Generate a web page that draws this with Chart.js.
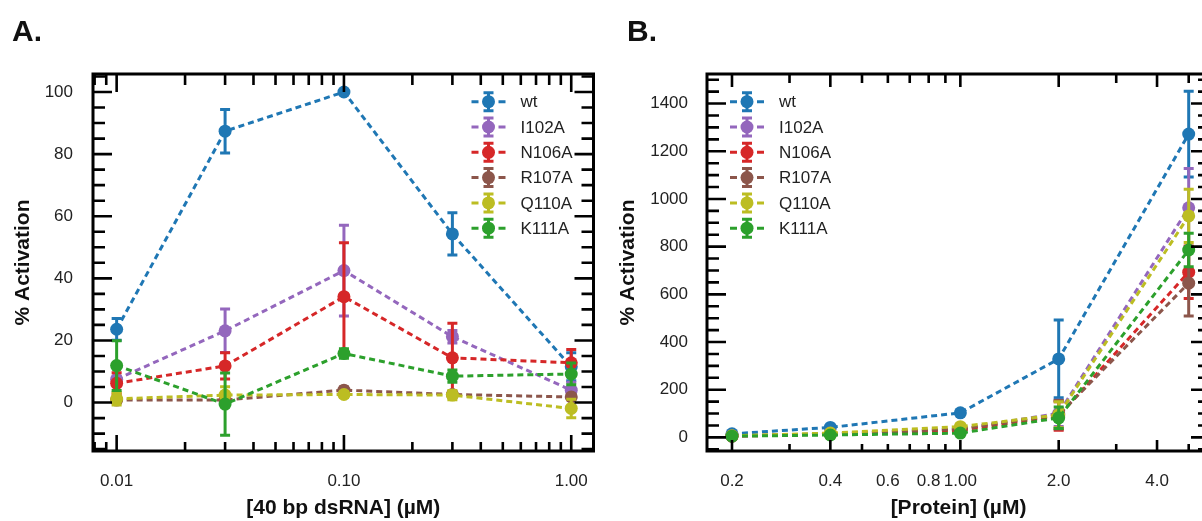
<!DOCTYPE html>
<html>
<head>
<meta charset="utf-8">
<script src="https://cdn.jsdelivr.net/npm/chart.js@4.4.1/dist/chart.umd.min.js"></script>
<style>
  html, body { margin: 0; padding: 0; overflow: hidden; background: #fff; width: 1202px; height: 521px; }
  .panel { position: absolute; top: 0; }
  .tag { position: absolute; font: bold 30px "Liberation Sans", Arial, sans-serif; color: #111; }
</style>
</head>
<body>
<canvas id="chartA" class="panel" width="600" height="521" style="left:0"></canvas>
<canvas id="chartB" class="panel" width="620" height="521" style="left:600px"></canvas>
<div class="tag" style="left:12px; top:14px;">A.</div>
<div class="tag" style="left:627px; top:14px;">B.</div>
<script>
// --- series ---
const seriesNames = ['wt', 'I102A', 'N106A', 'R107A', 'Q110A', 'K111A'];
const seriesColors = ['#1f77b4', '#9467bd', '#d62728', '#8c564b', '#bcbd22', '#2ca02c'];

// --- panel A: [40 bp dsRNA] ---
const dsrnaConc = [0.01, 0.03, 0.1, 0.3, 1.0];
const wtA    = [23.6, 87.4, 100, 54.3, 11.5];
const i102aA = [7.5, 23.1, 42.5, 21.2, 4.0];
const n106aA = [6.2, 11.8, 34.1, 14.4, 12.8];
const r107aA = [0.8, 0.8, 4.0, 2.6, 1.8];
const q110aA = [1.2, 2.4, 2.6, 2.4, -1.9];
const k111aA = [11.9, -0.5, 15.8, 8.5, 9.2];
const wtAErr    = [3.5, 7.0, 0, 6.8, 4.5];
const i102aAErr = [1.0, 7.0, 14.6, 2.0, 2.5];
const n106aAErr = [3.4, 4.2, 17.4, 11.1, 4.3];
const r107aAErr = [0.8, 0.8, 1.0, 0.8, 0.8];
const q110aAErr = [2.0, 2.7, 1.0, 1.5, 3.0];
const k111aAErr = [8.0, 10.0, 1.5, 2.0, 3.5];
const xTicksA = [0.01, 0.1, 1.0];
const xTickLabelsA = ['0.01', '0.10', '1.00'];
const yTicksA = [0, 20, 40, 60, 80, 100];

// --- panel B: [Protein] ---
const proteinConc = [0.2, 0.4, 1.0, 2.0, 5.0];
const wtB    = [15, 42, 103, 329, 1272];
const i102aB = [6, 15, 35, 101, 963];
const n106aB = [5, 14, 30, 90, 693];
const r107aB = [6, 15, 35, 95, 647];
const q110aB = [7, 18, 45, 95, 929];
const k111aB = [5, 10, 18, 82, 786];
const wtBErr    = [3, 5, 8, 163, 180];
const i102aBErr = [3, 4, 8, 55, 165];
const n106aBErr = [3, 4, 8, 60, 110];
const r107aBErr = [3, 4, 8, 60, 138];
const q110aBErr = [3, 4, 10, 55, 112];
const k111aBErr = [3, 4, 6, 45, 70];
const xTicksB = [0.2, 0.4, 0.6, 0.8, 1.0, 2.0, 4.0];
const xTickLabelsB = ['0.2', '0.4', '0.6', '0.8', '1.00', '2.0', '4.0'];
const yTicksB = [0, 200, 400, 600, 800, 1000, 1200, 1400];

// minor tick helpers (log decades / linear steps)
function logMinors(from, to) {
    const out = [];
    for (let d = Math.floor(Math.log10(from)); d <= Math.ceil(Math.log10(to)); d++) {
        for (let k = 1; k <= 9; k++) {
            const v = k * Math.pow(10, d);
            if (v >= from * 0.999 && v <= to * 1.001) out.push(v);
        }
    }
    return out;
}
function linSteps(from, to, step) {
    const out = [];
    for (let v = from; v <= to + 1e-9; v += step) out.push(v);
    return out;
}

const font = '"Liberation Sans", Arial, sans-serif';
const LW = 3;

// frame with inward ticks on all four sides
const framePlugin = {
    id: 'frame',
    afterDraw(chart, args, o) {
        const { ctx, chartArea: a, scales: { x, y } } = chart;
        ctx.save();
        ctx.strokeStyle = '#000';
        ctx.lineCap = 'butt';
        ctx.lineWidth = 2.6;
        ctx.beginPath();
        o.xMinor.forEach(v => {
            const len = o.xMajor.includes(v) ? o.xMajorLen : o.xMinorLen;
            const px = x.getPixelForValue(v);
            if (px < a.left || px > a.right) return;
            ctx.moveTo(px, a.bottom); ctx.lineTo(px, a.bottom - len);
            ctx.moveTo(px, a.top); ctx.lineTo(px, a.top + len + 2);
        });
        o.yMinor.forEach(v => {
            const len = o.yMajor.includes(v) ? 19 : 12;
            const py = y.getPixelForValue(v);
            if (py < a.top || py > a.bottom) return;
            ctx.moveTo(a.left, py); ctx.lineTo(a.left + len, py);
            ctx.moveTo(a.right, py); ctx.lineTo(a.right - len, py);
        });
        ctx.stroke();
        ctx.lineWidth = 3;
        ctx.strokeRect(a.left, a.top, a.right - a.left, a.bottom - a.top);
        ctx.restore();
    }
};

// error bars, drawn just under each series' own line
const errorBarPlugin = {
    id: 'errorBars',
    beforeDatasetDraw(chart, args) {
        const { ctx, chartArea: a, scales: { x, y } } = chart;
        const ds = chart.data.datasets[args.index];
        ctx.save();
        ctx.beginPath();
        ctx.rect(a.left, a.top, a.right - a.left, a.bottom - a.top);
        ctx.clip();
        ctx.strokeStyle = ds.borderColor;
        ctx.lineWidth = LW;
        ctx.beginPath();
        ds.data.forEach((p, j) => {
            const e = ds.errors[j];
            if (!e) return;
            const px = x.getPixelForValue(p.x);
            const y1 = y.getPixelForValue(p.y - e);
            const y2 = y.getPixelForValue(p.y + e);
            ctx.moveTo(px, y1); ctx.lineTo(px, y2);
            ctx.moveTo(px - 5, y1); ctx.lineTo(px + 5, y1);
            ctx.moveTo(px - 5, y2); ctx.lineTo(px + 5, y2);
        });
        ctx.stroke();
        ctx.restore();
    }
};

// legend inside the plot: dashed line + error bar + marker
const insideLegendPlugin = {
    id: 'insideLegend',
    afterDatasetsDraw(chart, args, o) {
        const { ctx, chartArea: a } = chart;
        const cx = o.side === 'right' ? a.right - o.dx : a.left + o.dx;
        ctx.save();
        chart.data.datasets.forEach((ds, i) => {
            const cy = a.top + o.dy + i * 25.3;
            ctx.strokeStyle = ds.borderColor;
            ctx.fillStyle = ds.borderColor;
            ctx.lineWidth = LW;
            ctx.beginPath();
            ctx.moveTo(cx - 17, cy); ctx.lineTo(cx - 10, cy);
            ctx.moveTo(cx + 10, cy); ctx.lineTo(cx + 17, cy);
            ctx.moveTo(cx, cy - 9); ctx.lineTo(cx, cy + 9);
            ctx.moveTo(cx - 5, cy - 9); ctx.lineTo(cx + 5, cy - 9);
            ctx.moveTo(cx - 5, cy + 9); ctx.lineTo(cx + 5, cy + 9);
            ctx.stroke();
            ctx.beginPath();
            ctx.arc(cx, cy, 6.5, 0, Math.PI * 2);
            ctx.fill();
            ctx.fillStyle = '#222';
            ctx.font = '17px ' + font;
            ctx.textBaseline = 'middle';
            ctx.textAlign = 'left';
            ctx.fillText(ds.label, cx + 32, cy + 1);
        });
        ctx.restore();
    }
};

function makePanel(id, p) {
    const datasets = seriesNames.map((name, i) => ({
        label: name,
        data: p.conc.map((c, j) => ({ x: c, y: p.values[i][j] })),
        errors: p.errors[i],
        borderColor: seriesColors[i],
        backgroundColor: seriesColors[i],
        borderWidth: LW,
        borderDash: [6, 4],
        pointRadius: 6.5,
        pointHoverRadius: 6.5,
        pointBorderWidth: 0,
        pointBackgroundColor: seriesColors[i],
        order: seriesNames.length - i
    }));

    return new Chart(document.getElementById(id), {
        type: 'line',
        data: { datasets },
        options: {
            responsive: false,
            animation: false,
            events: [],
            layout: { padding: { left: 0, top: 74, right: p.padRight, bottom: 0 } },
            plugins: {
                legend: { display: false },
                tooltip: { enabled: false },
                frame: {
                    xMajor: p.xMajor, xMinor: p.xMinor, xMajorLen: p.xMajorLen, xMinorLen: p.xMinorLen,
                    yMajor: p.yTicks, yMinor: p.yMinor
                },
                insideLegend: p.legend
            },
            scales: {
                x: {
                    type: 'logarithmic',
                    min: p.xMin, max: p.xMax,
                    grid: { display: false, drawTicks: false },
                    border: { display: false },
                    afterBuildTicks: s => { s.ticks = p.xTicks.map(v => ({ value: v })); },
                    afterFit: s => { s.height = 70; s.paddingLeft = 0; s.paddingRight = 0; },
                    ticks: {
                        autoSkip: false, maxRotation: 0, minRotation: 0, padding: 20,
                        color: '#222', font: { family: font, size: 17 },
                        callback: (v, i) => p.xTickLabels[i]
                    },
                    title: {
                        display: true, text: p.xTitle, color: '#111',
                        font: { family: font, size: 21, weight: 'bold' },
                        padding: { top: 0, bottom: 0 }
                    }
                },
                y: {
                    type: 'linear',
                    min: p.yMin, max: p.yMax,
                    grid: { display: false, drawTicks: false },
                    border: { display: false },
                    afterBuildTicks: s => { s.ticks = p.yTicks.map(v => ({ value: v })); },
                    afterFit: s => { s.width = p.yAxisWidth; s.paddingTop = 0; s.paddingBottom = 0; },
                    ticks: {
                        padding: p.yTickPad, color: '#222', font: { family: font, size: 17 },
                        callback: v => String(v)
                    },
                    title: {
                        display: true, text: '% Activation', color: '#111',
                        font: { family: font, size: 21, weight: 'bold' },
                        padding: { top: p.yTitlePad, bottom: 0 }
                    }
                }
            }
        },
        plugins: [errorBarPlugin, framePlugin, insideLegendPlugin]
    });
}

makePanel('chartA', {
    conc: dsrnaConc,
    values: [wtA, i102aA, n106aA, r107aA, q110aA, k111aA],
    errors: [wtAErr, i102aAErr, n106aAErr, r107aAErr, q110aAErr, k111aAErr],
    xMin: 0.00787, xMax: 1.253, yMin: -15.6, yMax: 105.8,
    xTicks: xTicksA, xTickLabels: xTickLabelsA,
    xMajor: xTicksA, xMinor: logMinors(0.008, 1.0), xMajorLen: 16, xMinorLen: 9,
    yTicks: yTicksA, yMinor: linSteps(-15, 105, 5),
    xTitle: '[40 bp dsRNA] (\u00b5M)',
    yAxisWidth: 93, yTickPad: 20, yTitlePad: 11, padRight: 5,
    legend: { side: 'right', dx: 105, dy: 27.7 }
});

makePanel('chartB', {
    conc: proteinConc,
    values: [wtB, i102aB, n106aB, r107aB, q110aB, k111aB],
    errors: [wtBErr, i102aBErr, n106aBErr, r107aBErr, q110aBErr, k111aBErr],
    xMin: 0.1677, xMax: 5.81, yMin: -57, yMax: 1524,
    xTicks: xTicksB, xTickLabels: xTickLabelsB,
    xMajor: [0.2, 0.4, 1.0, 2.0, 4.0], xMinor: logMinors(0.2, 5.0), xMajorLen: 11, xMinorLen: 7,
    yTicks: yTicksB, yMinor: linSteps(-50, 1500, 50),
    xTitle: '[Protein] (\u00b5M)',
    yAxisWidth: 107, yTickPad: 19, yTitlePad: 16, padRight: 10,
    legend: { side: 'left', dx: 40, dy: 27.7 }
});
</script>
</body>
</html>
